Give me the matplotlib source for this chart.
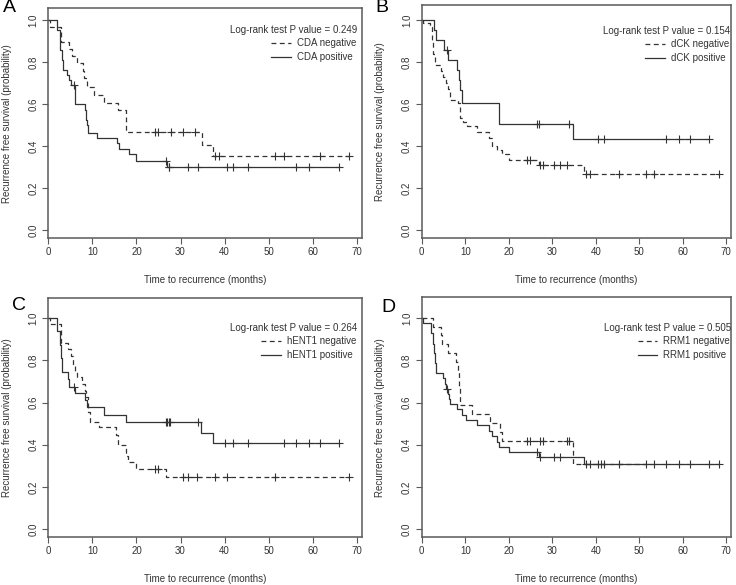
import numpy as np
import matplotlib
matplotlib.use("Agg")
import matplotlib.pyplot as plt

plt.rcParams['font.family'] = ['Liberation Sans', 'DejaVu Sans']
plt.rcParams['lines.scale_dashes'] = False

# ---- data ----
# A: CDA
cda_neg_t = [0, 0.4, 2.9, 4.6, 5.4, 6.6, 7.8, 8.2, 8.8, 10.4, 12.7, 15.9, 17.6, 34.8, 37.3]
cda_neg_s = [1.0, 0.966, 0.897, 0.862, 0.828, 0.793, 0.759, 0.724, 0.683, 0.645, 0.607, 0.571, 0.468, 0.405, 0.352]
cda_neg_cens = [24.2, 24.8, 27.8, 30.5, 33.3, 37.8, 38.8, 51.5, 53.5, 61.7, 68.3]
cda_pos_t = [0, 1.9, 2.7, 3.0, 3.3, 4.2, 4.7, 5.2, 6.1, 8.3, 8.6, 8.8, 9.1, 11.1, 15.5, 16.0, 18.2, 19.9, 27.0]
cda_pos_s = [1.0, 0.952, 0.857, 0.81, 0.762, 0.738, 0.714, 0.69, 0.60, 0.571, 0.524, 0.50, 0.463, 0.44, 0.415, 0.386, 0.36, 0.327, 0.298]
cda_pos_cens = [5.8, 26.6, 27.3, 27.4, 31.8, 33.9, 40.6, 42.0, 45.3, 56.2, 59.2, 66.0]

# B: dCK
dck_neg_t = [0, 0.3, 2.0, 2.4, 2.7, 3.1, 4.5, 5.0, 5.6, 6.1, 6.6, 8.3, 8.8, 9.6, 10.4, 12.6, 15.4, 16.2, 17.2, 18.5, 20.0, 27.0, 37.3]
dck_neg_s = [1.0, 0.984, 0.967, 0.90, 0.84, 0.784, 0.757, 0.73, 0.70, 0.67, 0.618, 0.605, 0.535, 0.515, 0.495, 0.468, 0.44, 0.40, 0.38, 0.362, 0.333, 0.31, 0.267]
dck_neg_cens = [24.2, 24.8, 27.3, 27.8, 30.5, 31.8, 33.3, 37.8, 38.8, 45.3, 51.5, 53.5, 68.3]
dck_pos_t = [0, 2.8, 3.3, 5.1, 6.1, 8.0, 8.5, 8.8, 9.3, 17.8, 34.8]
dck_pos_s = [1.0, 0.952, 0.905, 0.857, 0.81, 0.762, 0.714, 0.667, 0.605, 0.505, 0.432]
dck_pos_cens = [5.8, 26.6, 26.9, 33.9, 40.6, 42.0, 56.2, 59.2, 61.7, 66.0]

# C: hENT1
hent_neg_t = [0, 0.3, 2.9, 4.4, 5.1, 5.5, 6.1, 6.6, 7.6, 8.3, 8.6, 9.1, 9.5, 11.5, 15.4, 15.8, 17.6, 18.1, 19.9, 26.8]
hent_neg_s = [1.0, 0.971, 0.884, 0.855, 0.82, 0.78, 0.75, 0.72, 0.69, 0.655, 0.628, 0.557, 0.51, 0.486, 0.446, 0.40, 0.348, 0.316, 0.283, 0.248]
hent_neg_cens = [24.2, 24.8, 30.5, 31.8, 33.8, 37.8, 40.6, 51.5, 68.3]
hent_pos_t = [0, 1.9, 2.7, 2.9, 3.1, 4.5, 4.8, 6.0, 8.4, 8.8, 12.7, 17.6, 34.7, 37.3]
hent_pos_s = [1.0, 0.938, 0.875, 0.81, 0.745, 0.71, 0.675, 0.645, 0.61, 0.578, 0.541, 0.506, 0.457, 0.407]
hent_pos_cens = [5.8, 26.6, 27.0, 27.3, 27.6, 33.9, 40.1, 42.0, 45.3, 53.5, 56.2, 59.2, 61.7, 66.0]

# D: RRM1
rrm_neg_t = [0, 2.7, 4.4, 4.6, 6.0, 7.9, 8.4, 8.6, 8.8, 11.6, 15.8, 18.0, 18.4, 34.8]
rrm_neg_s = [1.0, 0.96, 0.92, 0.878, 0.837, 0.794, 0.752, 0.67, 0.589, 0.544, 0.502, 0.46, 0.418, 0.309]
rrm_neg_cens = [24.2, 24.8, 27.3, 27.8, 33.3, 33.9, 40.6, 41.3, 42.0, 45.3, 51.5]
rrm_pos_t = [0, 0.2, 2.1, 2.7, 2.9, 3.1, 3.4, 5.0, 5.3, 5.6, 6.1, 6.3, 6.5, 8.2, 9.2, 10.2, 12.8, 15.5, 16.1, 17.4, 17.7, 20.1, 27.0, 37.3]
rrm_pos_s = [1.0, 0.976, 0.929, 0.88, 0.833, 0.786, 0.74, 0.715, 0.69, 0.665, 0.64, 0.615, 0.593, 0.57, 0.541, 0.517, 0.494, 0.467, 0.443, 0.415, 0.391, 0.367, 0.343, 0.309]
rrm_pos_cens = [5.8, 26.6, 27.3, 30.5, 31.8, 37.8, 38.8, 53.5, 56.2, 59.2, 61.7, 66.0, 68.3]

p_values = ["0.249", "0.154", "0.264", "0.505"]
markers = ["CDA", "dCK", "hENT1", "RRM1"]
letters = ["A", "B", "C", "D"]
x_ticks = [0, 10, 20, 30, 40, 50, 60, 70]
y_ticks = [0.0, 0.2, 0.4, 0.6, 0.8, 1.0]

W, H = 736, 585
INK = "#333333"
FRAME = "#5a5a5a"

fig = plt.figure(figsize=(W / 100, H / 100), dpi=100)


def km_step(ax, t, s, cens, ls, label):
    t = np.asarray(t, float)
    s = np.asarray(s, float)
    cens = np.asarray(cens, float)
    end = max(t[-1], cens.max())
    ax.step(np.append(t, end), np.append(s, s[-1]), where="post",
            color=INK, lw=0.9, ls=ls, label=label)
    cy = s[np.searchsorted(t, cens, side="right") - 1]
    ax.plot(cens, cy, "+", color=INK, ms=6, mew=0.8)


# panel boxes in pixels: left, right, top, bottom, ylim top
boxes = [
    (48.3, 361.7, 8.4, 238.4, 1.055),
    (421.7, 731.0, 5.3, 238.4, 1.07),
    (48.3, 361.7, 298.3, 537.4, 1.095),
    (421.7, 731.0, 297.2, 537.4, 1.10),
]
legend_pos = [  # right edge, title y (pixels)
    (357, 30), (730, 31), (357, 328), (731, 328),
]
letter_pos = [(9, 7), (382, 7), (19, 305), (388, 307)]

series = [
    (cda_neg_t, cda_neg_s, cda_neg_cens, cda_pos_t, cda_pos_s, cda_pos_cens),
    (dck_neg_t, dck_neg_s, dck_neg_cens, dck_pos_t, dck_pos_s, dck_pos_cens),
    (hent_neg_t, hent_neg_s, hent_neg_cens, hent_pos_t, hent_pos_s, hent_pos_cens),
    (rrm_neg_t, rrm_neg_s, rrm_neg_cens, rrm_pos_t, rrm_pos_s, rrm_pos_cens),
]

for i, (box, data) in enumerate(zip(boxes, series)):
    left, right, top, bottom, ytop = box
    w, h = right - left, bottom - top
    ax = fig.add_axes([left / W, 1 - bottom / H, w / W, h / H])
    nt, ns, nc, pt, ps, pc = data
    km_step(ax, nt, ns, nc, (0, (3.5, 2.5)), f"{markers[i]} negative")
    km_step(ax, pt, ps, pc, "-", f"{markers[i]} positive")

    ax.set_xlim(0, 71.1)
    ax.set_ylim(-0.04, ytop)
    ax.set_xticks(x_ticks)
    ax.set_xticklabels([str(v) for v in x_ticks])
    ax.set_yticks(y_ticks)
    ax.set_yticklabels([f"{v:.1f}" for v in y_ticks], rotation=90, va="center")
    ax.tick_params(axis="x", direction="out", length=4.3, width=0.8, pad=1.8,
                   color=FRAME, labelcolor=INK, labelsize=7)
    ax.tick_params(axis="y", direction="out", length=4.0, width=0.8, pad=3,
                   color=FRAME, labelcolor=INK, labelsize=7)
    for sp in ax.spines.values():
        sp.set_color(FRAME)
        sp.set_linewidth(1.1)

    # axis titles placed by pixel offsets from the box
    ax.set_xlabel("Time to recurrence (months)", fontsize=7, color=INK)
    ax.xaxis.set_label_coords(0.5, -37.0 / h)
    ax.set_ylabel("Recurrence free survival (probability)", fontsize=7, color=INK)
    ax.yaxis.set_label_coords(-36.5 / w, 0.5)

    rx, ty = legend_pos[i]
    fig.text(rx / W, 1 - ty / H, f"Log-rank test P value = {p_values[i]}",
             ha="right", va="center", fontsize=7, color=INK)
    ax.legend(loc="upper right", bbox_to_anchor=((rx - 1) / W, 1 - (ty + 8) / H),
              bbox_transform=fig.transFigure, frameon=False, fontsize=7,
              handlelength=2.0, handletextpad=0.6, labelspacing=0.45,
              borderpad=0, borderaxespad=0, labelcolor=INK)

    lx, ly = letter_pos[i]
    fig.text(lx / W, 1 - ly / H, letters[i], ha="center", va="center",
             fontsize=14, color="black")

fig.savefig("out.png", dpi=100)
